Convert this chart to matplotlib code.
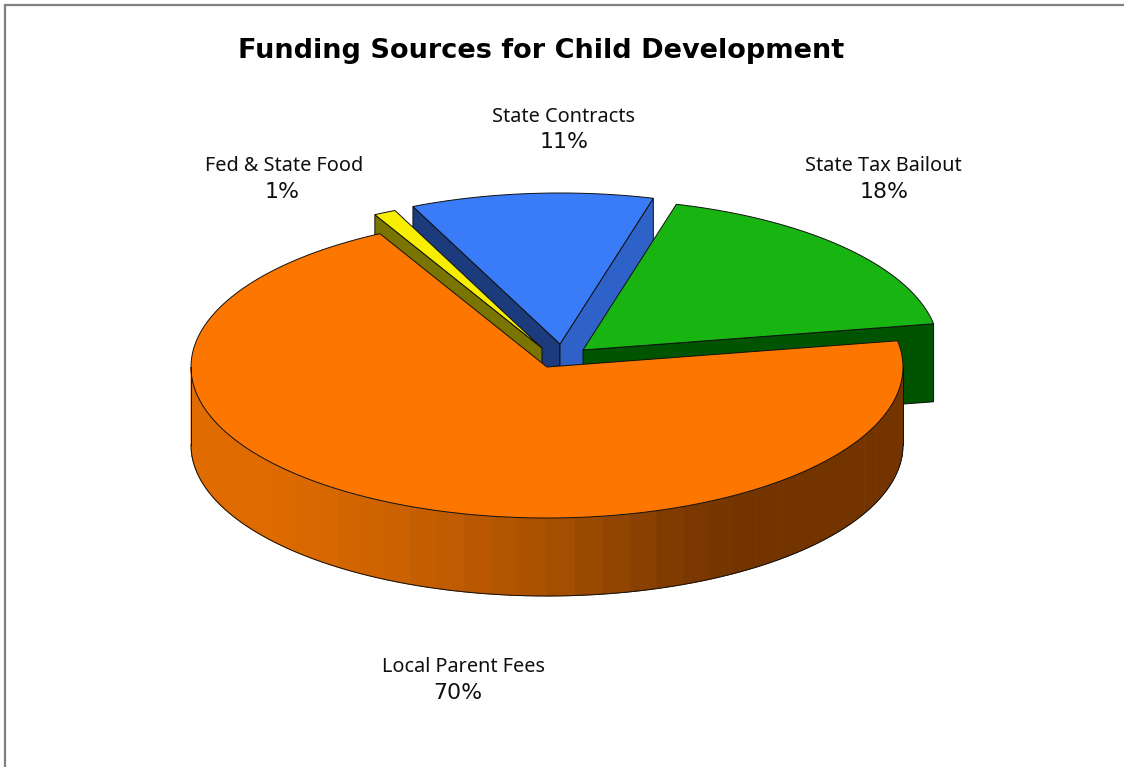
import numpy as np
import matplotlib
matplotlib.use('Agg')
import matplotlib.pyplot as plt
from matplotlib.patches import Polygon

categories = ['Fed & State Food', 'State Contracts', 'State Tax Bailout', 'Local Parent Fees']
shares = [1, 11, 18, 70]

top_colors = ['#f7ee00', '#3a7bf8', '#18b512', '#fd7600']
start_side = ['#7a7400', '#1b3b7c', '#00000000', '#00000000']
end_side = ['#00000000', '#2f62c9', '#005400', '#00000000']

# pie geometry in pixels
cx, cy = 547, 367
rx, ry = 356, 151
depth = 78
first_angle = 118
explode_x = [-5, 13, 36, 0]
explode_y = [-19, -23, -17, 0]
name_x = [284, 564, 883, 464]
name_y = [166, 117, 166, 667]
pct_x = [282, 564, 884, 458]
pct_y = [192, 142, 192, 693]
draw_order = [1, 2, 0, 3]

# shading along the front of the rim
shade_x = [191, 280, 400, 547, 680, 740, 903]
shade_r = [224, 222, 203, 168, 125, 115, 115]
shade_g = [107, 106, 97, 80, 58, 52, 52]


def rim(a, ox=0, oy=0, h=0):
    a = np.radians(a)
    return np.column_stack((cx + ox + rx * np.cos(a), cy + oy - ry * np.sin(a) + h))


def side_face(a, ox, oy, color):
    # flat cut face running from the centre out to the rim
    p = rim(a, ox, oy)[0]
    c = (cx + ox, cy + oy)
    ax.add_patch(Polygon([c, p, (p[0], p[1] + depth), (c[0], c[1] + depth)],
                         closed=True, fc=color, ec='#101010', lw=0.7))


fig = plt.figure(figsize=(11.24, 7.67), dpi=100)
ax = fig.add_axes([0, 0, 1, 1])
ax.set_xlim(0, 1124)
ax.set_ylim(767, 0)
ax.axis('off')

# outer frame, only top and left are on the canvas
ax.plot([5, 5, 1124], [767, 5, 5], color='#808080', lw=1.6, solid_joinstyle='miter')

edges = first_angle - np.cumsum([0] + shares) / sum(shares) * 360

for i in draw_order:
    a0, a1 = edges[i], edges[i + 1]
    ox, oy = explode_x[i], explode_y[i]

    if categories[i] == 'Local Parent Fees':
        # front of the rim, drawn as short bands so the shade steps across
        steps = np.linspace(180, 360, 41)
        for s0, s1 in zip(steps[:-1], steps[1:]):
            arc = np.linspace(s0, s1, 6)
            up = rim(arc)
            down = rim(arc[::-1], h=depth)
            mid = rim(np.array([(s0 + s1) / 2]))[0][0]
            col = (np.interp(mid, shade_x, shade_r) / 255, np.interp(mid, shade_x, shade_g) / 255, 0)
            ax.add_patch(Polygon(np.vstack((up, down)), closed=True, fc=col, ec=col, lw=0.6))
        arc = rim(np.linspace(180, 360, 200), h=depth)
        ax.plot(arc[:, 0], arc[:, 1], color='#101010', lw=0.7)
        ax.plot([cx - rx, cx - rx], [cy, cy + depth], color='#101010', lw=0.7)
        ax.plot([cx + rx, cx + rx], [cy, cy + depth], color='#101010', lw=0.7)
    else:
        if start_side[i] != '#00000000':
            side_face(a0, ox, oy, start_side[i])
        if end_side[i] != '#00000000':
            side_face(a1, ox, oy, end_side[i])

    outline = rim(np.linspace(a0, a1, 240), ox, oy)
    outline = np.vstack(([(cx + ox, cy + oy)], outline))
    ax.add_patch(Polygon(outline, closed=True, fc=top_colors[i], ec='#101010', lw=0.7))

for i in range(len(categories)):
    ax.text(name_x[i], name_y[i], categories[i], ha='center', va='center',
            fontsize=14.3, family='Noto Sans', color='#101010')
    ax.text(pct_x[i], pct_y[i], '%d%%' % shares[i], ha='center', va='center',
            fontsize=15.8, family='DejaVu Sans', color='#101010')

ax.text(541, 51, 'Funding Sources for Child Development', ha='center', va='center',
        fontsize=19.5, fontweight='bold', family='DejaVu Sans', color='black')

fig.savefig('out.png', dpi=100, facecolor='white')
